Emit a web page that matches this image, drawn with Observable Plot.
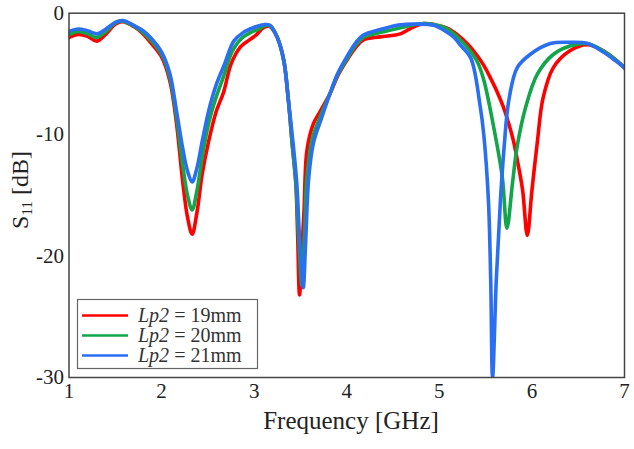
<!DOCTYPE html>
<html>
<head>
<meta charset="utf-8">
<script src="https://cdn.jsdelivr.net/npm/d3@7"></script>
<script src="https://cdn.jsdelivr.net/npm/@observablehq/plot@0.6"></script>
<style>
  html, body { margin: 0; padding: 0; background: #fff; }
  #chart { position: relative; width: 634px; height: 449px; }
</style>
</head>
<body>
<div id="chart"></div>
<script>
// Reflection coefficient S11 (dB) versus frequency (GHz) for three Lp2 lengths.
const lengthsMm = [19, 20, 21];
const seriesColors = ["#ff0000", "#12a54a", "#2a6ef2"];

const freq19 = [1.00, 1.10, 1.20, 1.30, 1.40, 1.50, 1.58, 1.70, 1.80, 1.88, 2.00, 2.09, 2.16, 2.23, 2.28, 2.33, 2.38, 2.44, 2.51, 2.59, 2.67, 2.75, 2.85, 2.95, 3.02, 3.10, 3.17, 3.25, 3.32, 3.37, 3.41, 3.45, 3.47, 3.49, 3.52, 3.54, 3.57, 3.64, 3.72, 3.82, 3.90, 4.00, 4.10, 4.18, 4.36, 4.58, 4.69, 4.83, 4.95, 5.09, 5.20, 5.30, 5.40, 5.48, 5.55, 5.62, 5.69, 5.75, 5.80, 5.85, 5.90, 5.95, 6.00, 6.06, 6.12, 6.23, 6.41, 6.60, 6.77, 6.90, 7.00];
const s11_19 = [-2.0, -1.75, -1.9, -2.3, -1.7, -0.9, -0.7, -1.1, -1.7, -2.4, -3.6, -5.6, -9.0, -14.0, -16.8, -18.2, -16.5, -13.2, -10.5, -8.1, -6.5, -4.2, -2.8, -2.2, -1.8, -1.2, -1.1, -2.0, -3.9, -7.2, -10.7, -14.0, -18.4, -23.2, -19.0, -16.0, -11.3, -9.1, -8.0, -6.6, -5.2, -3.9, -2.8, -2.2, -1.95, -1.7, -1.25, -0.85, -0.95, -1.25, -1.8, -2.5, -3.4, -4.3, -5.3, -6.4, -7.7, -9.1, -10.5, -12.4, -14.6, -18.3, -14.6, -10.5, -7.0, -4.5, -3.1, -2.6, -3.1, -3.8, -4.5];

const freq20 = [1.00, 1.10, 1.20, 1.30, 1.40, 1.50, 1.58, 1.70, 1.80, 1.88, 2.00, 2.09, 2.16, 2.23, 2.28, 2.33, 2.38, 2.44, 2.51, 2.59, 2.67, 2.76, 2.86, 2.96, 3.05, 3.10, 3.17, 3.25, 3.32, 3.37, 3.41, 3.45, 3.48, 3.515, 3.545, 3.57, 3.63, 3.72, 3.82, 3.90, 4.00, 4.10, 4.18, 4.36, 4.58, 4.70, 4.83, 4.95, 5.09, 5.20, 5.30, 5.41, 5.48, 5.58, 5.68, 5.73, 5.79, 5.84, 5.93, 6.06, 6.23, 6.41, 6.60, 6.77, 6.90, 7.00];
const s11_20 = [-1.75, -1.5, -1.7, -2.0, -1.5, -0.8, -0.65, -1.05, -1.6, -2.2, -3.4, -5.3, -8.5, -12.6, -15.0, -16.2, -14.7, -11.8, -9.0, -6.9, -5.2, -3.2, -2.1, -1.6, -1.3, -1.05, -1.05, -2.0, -3.9, -7.2, -10.7, -14.0, -18.4, -22.4, -18.0, -13.5, -10.3, -8.4, -6.6, -5.1, -3.8, -2.6, -2.0, -1.6, -1.2, -1.0, -0.85, -0.95, -1.3, -2.0, -2.8, -4.0, -5.5, -9.1, -13.5, -17.7, -14.0, -11.0, -7.8, -5.0, -3.4, -2.7, -2.5, -3.1, -3.8, -4.5];

const freq21 = [1.00, 1.10, 1.20, 1.30, 1.40, 1.50, 1.58, 1.70, 1.80, 1.88, 2.00, 2.09, 2.16, 2.23, 2.28, 2.33, 2.38, 2.44, 2.51, 2.59, 2.68, 2.78, 2.88, 2.99, 3.10, 3.17, 3.25, 3.32, 3.37, 3.42, 3.46, 3.49, 3.53, 3.555, 3.59, 3.64, 3.72, 3.82, 3.90, 4.00, 4.10, 4.18, 4.36, 4.58, 4.76, 4.94, 5.08, 5.16, 5.23, 5.34, 5.44, 5.48, 5.53, 5.555, 5.575, 5.615, 5.66, 5.70, 5.75, 5.84, 5.98, 6.20, 6.41, 6.60, 6.77, 6.90, 7.00];
const s11_21 = [-1.5, -1.3, -1.45, -1.7, -1.3, -0.75, -0.6, -1.0, -1.45, -2.0, -3.2, -5.0, -8.0, -11.2, -13.0, -13.9, -12.8, -10.5, -8.0, -5.9, -4.2, -2.3, -1.6, -1.2, -0.95, -1.0, -2.0, -3.9, -7.2, -10.7, -14.0, -18.4, -22.6, -19.0, -13.5, -10.7, -8.8, -6.6, -5.0, -3.6, -2.4, -1.8, -1.35, -0.95, -0.9, -1.0, -1.55, -2.0, -2.65, -3.7, -7.6, -10.0, -15.4, -22.0, -30.0, -22.0, -15.4, -11.0, -7.2, -4.5, -3.4, -2.5, -2.4, -2.5, -3.2, -3.9, -4.5];

const xTicks = [1, 2, 3, 4, 5, 6, 7];
const yTicks = [0, -10, -20, -30];

const seriesLabels = lengthsMm.map(d => `Lp2 = ${d}mm`);
const freqs = [freq19, freq20, freq21];
const values = [s11_19, s11_20, s11_21];

// Long-format table: one row per sample, tagged with its series label.
const rows = seriesLabels.flatMap((label, i) =>
  freqs[i].map((f, j) => ({ series: label, freq: f, s11: values[i][j] }))
);

const W = 634, H = 449;
const margin = { left: 68.5, right: 10, top: 12.7, bottom: 72 };
const serif = "'Liberation Serif', 'Times New Roman', serif";
const ink = "#222";

const chart = Plot.plot({
  width: W,
  height: H,
  marginLeft: margin.left,
  marginRight: margin.right,
  marginTop: margin.top,
  marginBottom: margin.bottom,
  style: { fontFamily: serif, color: ink, background: "#fff", overflow: "visible" },
  x: { domain: [1, 7] },
  y: { domain: [-30, 0] },
  color: { domain: seriesLabels, range: seriesColors },
  marks: [
    Plot.line(rows, {
      x: "freq", y: "s11", z: "series", stroke: "series",
      strokeWidth: 3.6, curve: "catmull-rom", clip: true
    }),
    Plot.frame({ stroke: "#444", strokeWidth: 1.5 }),
    Plot.axisX({
      ticks: xTicks, tickSize: 0, tickPadding: 6, label: null,
      tickFormat: d => String(d), fontSize: 21, fontFamily: serif
    }),
    Plot.axisY({
      ticks: yTicks, tickSize: 0, tickPadding: 5, label: null,
      tickFormat: d => String(d), fontSize: 21, fontFamily: serif
    })
  ]
});

document.getElementById("chart").appendChild(chart);

const svg = d3.select(chart);

// x-axis title
svg.append("text")
  .attr("x", 351).attr("y", 429)
  .attr("text-anchor", "middle")
  .attr("font-family", serif).attr("font-size", 25)
  .attr("fill", ink)
  .text("Frequency [GHz]");

// y-axis title with subscript
const yt = svg.append("text")
  .attr("transform", "translate(28,190) rotate(-90)")
  .attr("text-anchor", "middle")
  .attr("font-family", serif).attr("font-size", 24)
  .attr("fill", ink);
yt.append("tspan").text("S");
yt.append("tspan").attr("font-size", 15).attr("dy", 4).text("11");
yt.append("tspan").attr("dy", -4).text(" [dB]");

// Legend box in the lower-left corner of the frame
const lg = svg.append("g");
lg.append("rect")
  .attr("x", 77.5).attr("y", 299.5).attr("width", 180).attr("height", 69)
  .attr("fill", "#fff").attr("stroke", "#666").attr("stroke-width", 1.2);
seriesLabels.forEach((label, i) => {
  const cy = 315.5 + i * 20;
  lg.append("line")
    .attr("x1", 82).attr("x2", 128).attr("y1", cy).attr("y2", cy)
    .attr("stroke", seriesColors[i]).attr("stroke-width", 2.5);
  const t = lg.append("text")
    .attr("x", 138).attr("y", cy + 6.5)
    .attr("text-anchor", "start")
    .attr("font-family", serif).attr("font-size", 20)
    .attr("fill", "#333");
  t.append("tspan").attr("font-style", "italic").text("Lp2");
  t.append("tspan").text(` = ${lengthsMm[i]}mm`);
});
</script>
</body>
</html>
